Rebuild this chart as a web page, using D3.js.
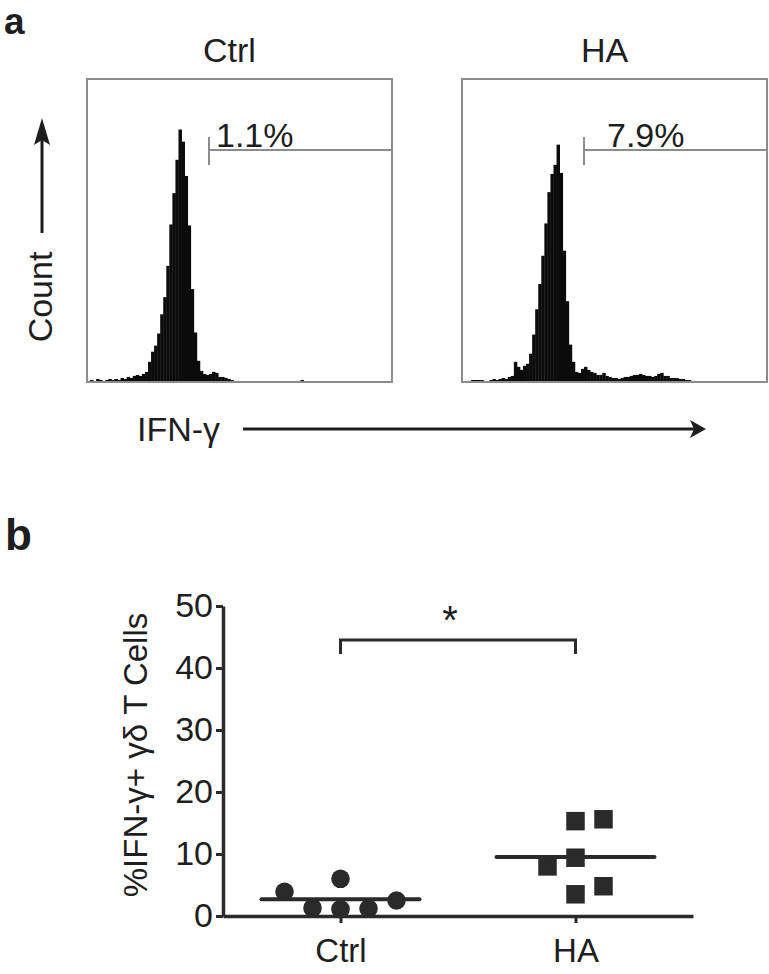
<!DOCTYPE html>
<html>
<head>
<meta charset="utf-8">
<script src="https://cdn.jsdelivr.net/npm/d3@7"></script>
<style>
  html, body { margin: 0; padding: 0; background: #fff; }
  svg { display: block; }
  text { font-family: "Liberation Sans", Arial, Helvetica, sans-serif; }
</style>
</head>
<body>
<div id="chart"></div>
<script>
// ---------------- DATA ----------------
// Panel a: flow cytometry histograms (100 channels along IFN-γ axis, counts in arbitrary units)
const histTitles = ["Ctrl", "HA"];
const gateLabels = ["1.1%", "7.9%"];
const gateStart = 40;   // channel where the IFN-γ+ gate begins
const gateEnd = 100;    // channel where the gate ends
const ctrlHist = [
  1,2,1,3,2,1,2,3,2,3, 2,4,3,5,4,6,7,6,8,10,
  20,30,36,48,67,84,115,156,187,220, 250,238,204,155,92,49,21,11,8,7,
  8,10,9,5,5,4,3,2,0,0, 0,0,0,0,0,0,0,0,0,0,
  0,0,0,0,0,0,0,0,0,0, 2,0,0,0,0,0,0,0,0,0,
  0,0,0,0,0,0,0,0,0,0, 0,0,0,0,0,0,0,0,0,0
];
const haHist = [
  0,0,0,2,2,2,2,0,0,2, 3,2,3,4,3,5,6,20,15,12,
  16,18,28,47,72,97,125,157,188,206, 215,235,207,130,80,37,20,10,9,13,
  15,12,10,9,7,7,9,6,5,4, 4,3,4,5,5,6,7,7,8,7,
  6,6,5,6,8,9,6,6,4,4, 4,3,3,2,2,0,0,0,0,0,
  0,0,0,0,0,0,0,0,0,0, 0,0,0,0,0,0,0,0,0,0
];

// Panel b: % IFN-γ+ γδ T cells
const groups = ["Ctrl", "HA"];
const ctrlValues = [3.9, 1.3, 6.0, 1.1, 1.2, 2.5];
const ctrlJitter = [-2, -1, 0, 0, 1, 2];
const haValues = [15.3, 15.6, 8.0, 9.4, 3.5, 4.8];
const haJitter = [0, 1, -1, 0, 0, 1];
const medians = [2.7, 9.5];
const yTicks = [0, 10, 20, 30, 40, 50];
const bracketLevel = 44.5;
const sigLabel = "*";

// ---------------- LAYOUT ----------------
const W = 769, H = 974;
const svg = d3.select("#chart").append("svg").attr("width", W).attr("height", H);
svg.append("rect").attr("width", W).attr("height", H).attr("fill", "#fff");

const ink = "#1e1e1e";
const boxGray = "#8c8c8c";

// panel letters
svg.append("text").attr("x", 4).attr("y", 34).attr("font-size", 37).attr("font-weight", "bold")
  .attr("fill", ink).text("a");
svg.append("text").attr("x", 5).attr("y", 550).attr("font-size", 44).attr("font-weight", "bold")
  .attr("fill", ink).text("b");

// ---- Panel a histograms ----
const boxW = 305, boxH = 303, boxTop = 79;
const boxLefts = [87, 462];
const labelOffsets = [7, 23];
const hists = [ctrlHist, haHist];

hists.forEach((hist, k) => {
  const left = boxLefts[k];
  const g = svg.append("g");
  const x = d3.scaleLinear().domain([0, hist.length]).range([left, left + boxW]);
  const y = d3.scaleLinear().domain([0, 300]).range([boxTop + boxH, boxTop]);
  // bars
  g.selectAll("rect.bin").data(hist).join("rect")
    .attr("class", "bin")
    .attr("x", (d, i) => x(i))
    .attr("width", x(1) - x(0) + 0.4)
    .attr("y", d => y(d))
    .attr("height", d => y(0) - y(d))
    .attr("fill", "#0b0b0b");
  // frame
  g.append("rect").attr("x", left).attr("y", boxTop).attr("width", boxW).attr("height", boxH)
    .attr("fill", "none").attr("stroke", boxGray).attr("stroke-width", 2);
  // gate
  const gy = 150;
  g.append("line").attr("x1", x(gateStart)).attr("x2", x(gateEnd)).attr("y1", gy).attr("y2", gy)
    .attr("stroke", boxGray).attr("stroke-width", 2);
  [gateStart, gateEnd].forEach(c => {
    g.append("line").attr("x1", x(c)).attr("x2", x(c)).attr("y1", gy - 13).attr("y2", gy + 15)
      .attr("stroke", boxGray).attr("stroke-width", 2);
  });
  g.append("text").attr("x", x(gateStart) + labelOffsets[k]).attr("y", 147)
    .attr("font-size", 34).attr("fill", ink).text(gateLabels[k]);
  // title
  g.append("text").attr("x", left + boxW / 2 - 10).attr("y", 62).attr("text-anchor", "middle")
    .attr("font-size", 34).attr("fill", ink).text(histTitles[k]);
});

// Count label + arrow
svg.append("text").attr("transform", "translate(52,297) rotate(-90)").attr("text-anchor", "middle")
  .attr("font-size", 34).attr("fill", ink).text("Count");
svg.append("line").attr("x1", 42).attr("x2", 42).attr("y1", 233).attr("y2", 136)
  .attr("stroke", ink).attr("stroke-width", 3);
svg.append("path").attr("d", "M42,118 L50,145 L42,140 L34,145 Z").attr("fill", ink);

// IFN-γ label + arrow
svg.append("text").attr("x", 137).attr("y", 441).attr("font-size", 34).attr("fill", ink).text("IFN-γ");
svg.append("line").attr("x1", 243).attr("x2", 694).attr("y1", 429).attr("y2", 429)
  .attr("stroke", ink).attr("stroke-width", 3);
svg.append("path").attr("d", "M706,429 L690,420 L694,429 L690,438 Z").attr("fill", ink);

// ---- Panel b scatter ----
const dark = "#2a2a2a";
const yb = d3.scaleLinear().domain([0, 50]).range([916, 606]);
const xb = d3.scalePoint().domain(groups).range([223, 693]).padding(0.5);
const jitterStep = 28;

const yAxis = svg.append("g").attr("transform", "translate(223,0)")
  .call(d3.axisLeft(yb).tickValues(yTicks).tickSize(7).tickSizeOuter(0).tickPadding(3));
yAxis.select(".domain").attr("stroke", dark).attr("stroke-width", 3.5);
yAxis.selectAll(".tick line").attr("stroke", dark).attr("stroke-width", 3);
yAxis.selectAll(".tick text").attr("font-size", 34).attr("fill", ink)
  .attr("font-family", "'Liberation Sans', Arial, sans-serif");

const xAxis = svg.append("g").attr("transform", "translate(0,916)")
  .call(d3.axisBottom(xb).tickSize(7).tickSizeOuter(0).tickPadding(16));
xAxis.select(".domain").attr("stroke", dark).attr("stroke-width", 3.5);
xAxis.selectAll(".tick line").attr("stroke", dark).attr("stroke-width", 3);
xAxis.selectAll(".tick text").attr("font-size", 33).attr("fill", ink)
  .attr("font-family", "'Liberation Sans', Arial, sans-serif");

// y label
svg.append("text").attr("transform", "translate(147,755) rotate(-90)").attr("text-anchor", "middle")
  .attr("font-size", 33).attr("fill", ink).text("%IFN-γ+ γδ T Cells");

// medians
medians.forEach((m, k) => {
  const cx = xb(groups[k]);
  svg.append("line").attr("x1", cx - 79).attr("x2", cx + 79).attr("y1", yb(m)).attr("y2", yb(m))
    .attr("stroke", dark).attr("stroke-width", 4).attr("stroke-linecap", "round");
});

// Ctrl circles
svg.selectAll("circle.ctrl").data(ctrlValues).join("circle")
  .attr("class", "ctrl")
  .attr("cx", (d, i) => xb("Ctrl") + ctrlJitter[i] * jitterStep)
  .attr("cy", d => yb(d))
  .attr("r", 9.3)
  .attr("fill", dark);

// HA squares
svg.selectAll("path.ha").data(haValues).join("path")
  .attr("class", "ha")
  .attr("transform", (d, i) => `translate(${xb("HA") + haJitter[i] * jitterStep},${yb(d)})`)
  .attr("d", d3.symbol(d3.symbolSquare).size(18.5 * 18.5)())
  .attr("fill", dark);

// significance bracket
const bx1 = xb("Ctrl"), bx2 = xb("HA"), by = yb(bracketLevel);
svg.append("path")
  .attr("d", `M${bx1},${by + 14} V${by} H${bx2} V${by + 14}`)
  .attr("fill", "none").attr("stroke", dark).attr("stroke-width", 3);
svg.append("text").attr("x", (bx1 + bx2) / 2 - 8).attr("y", 634).attr("text-anchor", "middle")
  .attr("font-size", 40).attr("fill", ink).text(sigLabel);
</script>
</body>
</html>
